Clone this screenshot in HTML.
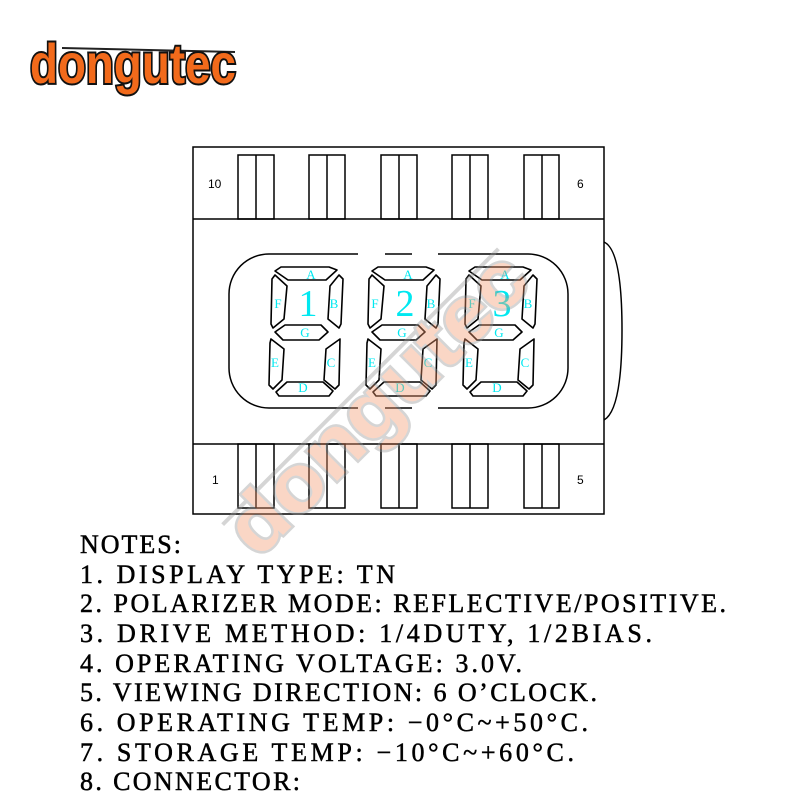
<!DOCTYPE html>
<html><head><meta charset="utf-8"><style>
html,body{margin:0;padding:0;background:#fff;width:800px;height:800px;overflow:hidden}
</style></head><body>
<svg width="800" height="800" viewBox="0 0 800 800" xmlns="http://www.w3.org/2000/svg">
<defs>
<g id="dig" fill="#fff" stroke="#000" stroke-width="1.6" stroke-linejoin="round">
<polygon points="10,0 58,0 66,3 55,13 17,13 4,4"/>
<polygon points="4,8 16,19 13,52 2,61 0,57 1,12"/>
<polygon points="68,8 72,12 70,57 68,61 57,52 59,19"/>
<polygon points="4,65 14,58 50,58 57,65 48,73 12,73"/>
<polygon points="0,72 13,82 11,113 2,122 -2,118 -1,76"/>
<polygon points="69,72 68,118 64,122 53,113 55,82"/>
<polygon points="16,115 52,115 62,124 58,129 8,129 5,125"/>
<g fill="#00e8f0" stroke="none" font-family="Liberation Serif, serif" font-size="13" text-anchor="middle">
<text x="40" y="12">A</text><text x="7" y="41">F</text><text x="63" y="41">B</text>
<text x="34" y="70">G</text><text x="4" y="100">E</text><text x="60" y="100">C</text><text x="32" y="125">D</text>
</g>
</g>
</defs>
<!-- logo -->
<line x1="62" y1="48" x2="235" y2="52" stroke="#222" stroke-width="2"/>
<text x="30" y="83" font-family="Liberation Sans, sans-serif" font-weight="bold" font-size="56" fill="#f26a1b" stroke="#111" stroke-width="4" paint-order="stroke" textLength="206" lengthAdjust="spacingAndGlyphs">dongutec</text>
<!-- outer -->
<g fill="none" stroke="#000" stroke-width="1.5">
<rect x="193" y="147" width="411" height="367"/>
<line x1="193" y1="219" x2="604" y2="219"/>
<line x1="193" y1="444" x2="604" y2="444"/>
<path d="M604 242 Q622 250 622 330 Q622 410 604 420"/>
<g id="pins">
<rect x="238" y="155" width="36" height="64"/><line x1="256" y1="155" x2="256" y2="219"/>
<rect x="309" y="155" width="36" height="64"/><line x1="327" y1="155" x2="327" y2="219"/>
<rect x="381" y="155" width="36" height="64"/><line x1="399" y1="155" x2="399" y2="219"/>
<rect x="452" y="155" width="36" height="64"/><line x1="470" y1="155" x2="470" y2="219"/>
<rect x="524" y="155" width="35" height="64"/><line x1="542" y1="155" x2="542" y2="219"/>
</g>
<use href="#pins" transform="translate(0,289)"/>
<path d="M358 254 H269 A40 40 0 0 0 229 294 V368 A40 40 0 0 0 269 408 H358"/>
<path d="M438 254 H528 A40 40 0 0 1 568 294 V368 A40 40 0 0 1 528 408 H438"/>
<line x1="385" y1="254" x2="412" y2="254"/>
<line x1="385" y1="408" x2="412" y2="408"/>
</g>
<g font-family="Liberation Sans, sans-serif" font-size="12" fill="#000">
<text x="208" y="188">10</text><text x="577" y="188">6</text>
<text x="212" y="484">1</text><text x="577" y="484">5</text>
</g>
<use href="#dig" transform="translate(271,267)"/>
<use href="#dig" transform="translate(368,267)"/>
<use href="#dig" transform="translate(465,267)"/>
<g fill="#00e8f0" font-family="Liberation Serif, serif" font-size="38" text-anchor="middle">
<text x="308" y="316">1</text><text x="405" y="316">2</text><text x="502" y="316">3</text>
</g>
<!-- watermark -->
<g transform="translate(258,560) rotate(-45)" opacity="0.4">
<line x1="0" y1="-50" x2="390" y2="-50" stroke="#999" stroke-width="4"/>
<text x="0" y="0" font-family="Liberation Sans, sans-serif" font-weight="bold" font-size="80" fill="#f59a70" stroke="#999" stroke-width="5" paint-order="stroke" textLength="390" lengthAdjust="spacingAndGlyphs">dongutec</text>
</g>
<!-- notes -->
<g font-family="Liberation Serif, serif" font-size="26" fill="#000" stroke="#000" stroke-width="0.5" lengthAdjust="spacing">
<text x="80" y="553" textLength="101">NOTES:</text>
<text x="80" y="583" textLength="315">1. DISPLAY TYPE: TN</text>
<text x="80" y="612" textLength="646">2. POLARIZER MODE: REFLECTIVE/POSITIVE.</text>
<text x="80" y="642" textLength="572">3. DRIVE METHOD: 1/4DUTY, 1/2BIAS.</text>
<text x="80" y="672" textLength="442">4. OPERATING VOLTAGE: 3.0V.</text>
<text x="80" y="701" textLength="517">5. VIEWING DIRECTION: 6 O’CLOCK.</text>
<text x="80" y="731" textLength="508">6. OPERATING TEMP: −0°C~+50°C.</text>
<text x="80" y="761" textLength="494">7. STORAGE TEMP: −10°C~+60°C.</text>
<text x="80" y="790" textLength="220">8. CONNECTOR:</text>
</g>
</svg>
</body></html>
